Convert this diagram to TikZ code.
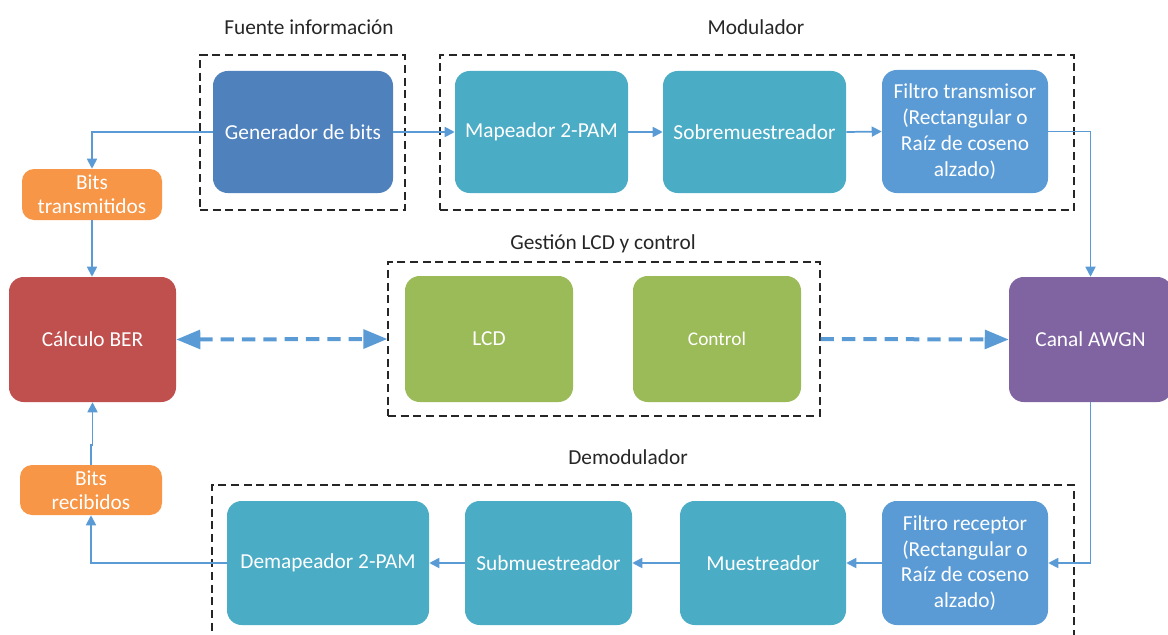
\documentclass[tikz,border=0pt]{standalone}
\usepackage{fontspec}
\setmainfont{Carlito}
\usetikzlibrary{arrows.meta,fit}
\definecolor{cgen}{HTML}{4F81BD}
\definecolor{cteal}{HTML}{4BACC6}
\definecolor{cfil}{HTML}{5B9BD5}
\definecolor{corange}{HTML}{F79646}
\definecolor{cred}{HTML}{C0504D}
\definecolor{cgreen}{HTML}{9BBB59}
\definecolor{cpurple}{HTML}{8064A2}
\definecolor{carrow}{HTML}{5B9BD5}
\definecolor{cgrp}{HTML}{262626}
\begin{document}
\begin{tikzpicture}[x=0.75pt,y=-0.75pt,
  blk/.style={rounded corners=11pt, inner sep=0pt, text=white, align=center,
    font=\fontsize{16}{19.3}\selectfont},
  smallblk/.style={blk, rounded corners=9pt, font=\fontsize{16}{18}\selectfont},
  grp/.style={draw=cgrp, dash pattern=on 6pt off 3.5pt, line width=0.9pt, inner sep=0pt},
  grplbl/.style={text=cgrp, font=\fontsize{16}{19}\selectfont},
  con/.style={draw=carrow, line width=1.3pt, -{Triangle[length=7.5pt,width=7.5pt]}},
  bigcon/.style={draw=carrow, line width=3pt, dash pattern=on 10pt off 6pt,
    {Triangle[length=18pt,width=14pt]}-{Triangle[length=18pt,width=14pt]}},
  bigcon1/.style={draw=carrow, line width=3pt, dash pattern=on 10pt off 6pt,
    -{Triangle[length=18pt,width=14pt]}}
]
\clip (0,0) rectangle (1168,635);
% groups
\node[grp, fit={(200,55) (405,210)}] (gfuente) {};
\node[grp, fit={(440,55) (1074,210)}] (gmod) {};
\node[grp, fit={(388,262) (820,416)}] (glcd) {};
\node[grp, fit={(212,485) (1074,650)}] (gdem) {};
\node[grplbl] (lfuente) at (309,27) {Fuente información};
\node[grplbl] (lmod) at (756,27) {Modulador};
\node[grplbl] (llcd) at (603,244) {Gestión LCD y control};
\node[grplbl] (ldem) at (628,457) {Demodulador};
% blocks
\node[blk, fill=cgen, minimum width=135pt, minimum height=91.5pt] (gen) at (303,132) {Generador de bits};
\node[blk, fill=cteal, minimum width=129.75pt, minimum height=91.5pt] (map) at (541.5,132) {Mapeador 2-PAM};
\node[blk, fill=cteal, minimum width=137.25pt, minimum height=91.5pt] (sob) at (754.5,132) {Sobremuestreador};
\node[blk, fill=cfil, minimum width=124.5pt, minimum height=92.25pt] (ftx) at (965,131.5) {Filtro transmisor\\(Rectangular o\\Raíz de coseno\\alzado)};
\node[smallblk, fill=corange, minimum width=105pt, minimum height=38.25pt] (btx) at (92,194.5) {Bits\\transmitidos};
\node[blk, fill=cred, minimum width=125.25pt, minimum height=93.75pt] (ber) at (92.5,339.5) {Cálculo BER};
\node[blk, fill=cgreen, minimum width=126pt, minimum height=94.5pt] (lcd) at (489,339) {LCD};
\node[blk, fill=cgreen, minimum width=126pt, minimum height=94.5pt, font=\fontsize{14.5}{17}\selectfont] (ctl) at (717,339) {Control};
\node[blk, fill=cpurple, minimum width=122.25pt, minimum height=93.75pt] (canal) at (1090.5,339.5) {Canal AWGN};
\node[smallblk, fill=corange, minimum width=106.5pt, minimum height=37.5pt] (brx) at (91,490) {Bits\\recibidos};
\node[blk, fill=cfil, minimum width=124.5pt, minimum height=93pt] (frx) at (965,563) {Filtro receptor\\(Rectangular o\\Raíz de coseno\\alzado)};
\node[blk, fill=cteal, minimum width=124.5pt, minimum height=93pt] (mue) at (763,563) {Muestreador};
\node[blk, fill=cteal, minimum width=125.25pt, minimum height=93pt] (sub) at (548.5,563) {Submuestreador};
\node[blk, fill=cteal, minimum width=151.5pt, minimum height=93pt] (dem) at (328,563) {Demapeador 2-PAM};
% connectors
\draw[con] (gen.east) -- (map.west);
\draw[con] (map.east) -- (sob.west);
\draw[con] (sob.east) -- (ftx.west);
\draw[con] (ftx.east) -| (canal.north);
\draw[con] (gen.west) -| (btx.north);
\draw[con] (btx.south) -- (btx.south |- ber.north);
\draw[con] (canal.south) |- (frx.east);
\draw[con] (frx.west) -- (mue.east);
\draw[con] (mue.west) -- (sub.east);
\draw[con] (sub.west) -- (dem.east);
\draw[con] (dem.west) -| (brx.south);
\draw[con] (brx.north) -- ++(0,-20) -| (ber.south);
\draw[bigcon] (ber.east) -- (glcd.west);
\draw[bigcon1] (glcd.east) -- (canal.west);
\end{tikzpicture}
\end{document}
